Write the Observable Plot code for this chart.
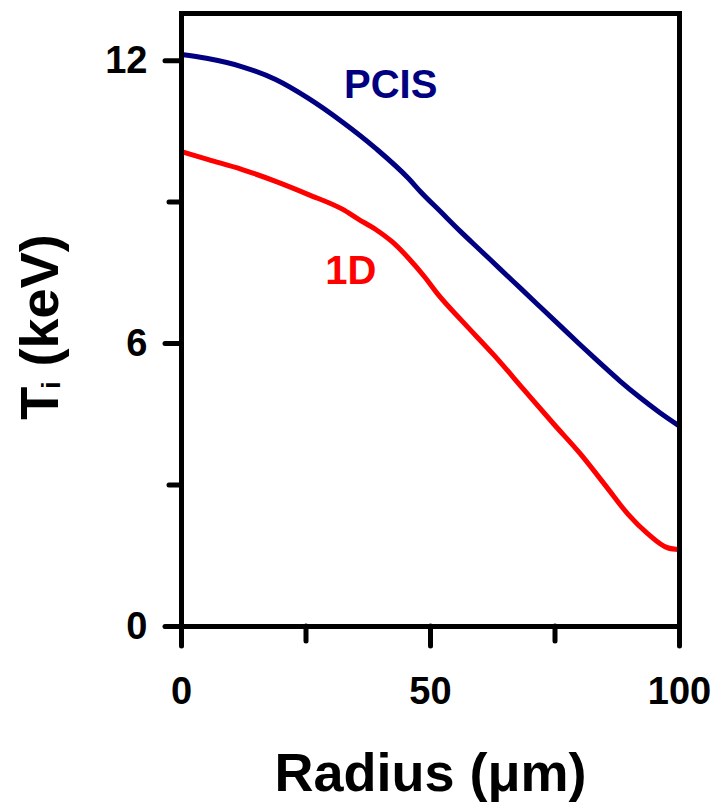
<!DOCTYPE html>
<html>
<head>
<meta charset="utf-8">
<script src="https://cdn.jsdelivr.net/npm/d3@7"></script>
<script src="https://cdn.jsdelivr.net/npm/@observablehq/plot@0.6"></script>
<style>
  html, body { margin: 0; padding: 0; background: #ffffff; }
  #chart svg { display: block; }
</style>
</head>
<body>
<div id="chart"></div>
<script>
// ---- Data ----
const radiusPCIS = [0, 5, 12.2, 18.9, 25.5, 32.3, 39, 45.6, 48, 52, 56, 60, 64, 68, 72, 76, 80, 84, 88, 92, 96, 100];
const tiPCIS     = [12.13, 12.05, 11.87, 11.6, 11.2, 10.7, 10.14, 9.5, 9.22, 8.8, 8.38, 7.98, 7.58, 7.18, 6.78, 6.38, 5.98, 5.59, 5.21, 4.86, 4.54, 4.25];

const radius1D = [0, 5.4, 12.2, 18.9, 25.5, 32.3, 35.5, 39, 42.4, 45.6, 49, 51.3, 56.6, 62.7, 68.7, 74.7, 80.1, 85.5, 89.6, 93.6, 97.6, 100];
const ti1D     = [10.07, 9.9, 9.69, 9.44, 9.16, 8.85, 8.64, 8.42, 8.15, 7.81, 7.39, 7.07, 6.45, 5.76, 5.03, 4.30, 3.66, 2.94, 2.39, 1.97, 1.67, 1.63];

const xMajorTicks = [0, 50, 100];
const xMinorTicks = [25, 75];
const yMajorTicks = [0, 6, 12];
const yMinorTicks = [3, 9];

const seriesNames = ["PCIS", "1D"];
const seriesColors = ["#000080", "#ff0000"];
// label anchor points (data units)
const labelRadius = [42, 34];
const labelTi = [11.2, 7.27];

const xLabel = "Radius (μm)";

// ---- Build tables ----
const pcis = radiusPCIS.map((r, i) => ({r, t: tiPCIS[i]}));
const oneD = radius1D.map((r, i) => ({r, t: ti1D[i]}));
const labels = seriesNames.map((name, i) => ({name, r: labelRadius[i], t: labelTi[i], color: seriesColors[i]}));

const chart = Plot.plot({
  width: 717,
  height: 809,
  marginLeft: 181,
  marginRight: 38,
  marginTop: 13,
  marginBottom: 183,
  x: {domain: [0, 100]},
  y: {domain: [0, 13]},
  style: {fontFamily: "'Liberation Sans', Arial, sans-serif", fontWeight: "bold", background: "#ffffff", color: "#000"},
  marks: [
    Plot.lineY(pcis, {x: "r", y: "t", stroke: seriesColors[0], strokeWidth: 5, curve: "monotone-x"}),
    Plot.lineY(oneD, {x: "r", y: "t", stroke: seriesColors[1], strokeWidth: 5, curve: "monotone-x"}),
    Plot.frame({stroke: "#000", strokeWidth: 5}),
    Plot.axisY(yMinorTicks, {tickSize: 12, tickFormat: () => "", strokeWidth: 5, strokeLinecap: "round", label: null}),
    Plot.axisY(yMajorTicks, {tickSize: 16, tickPadding: 18, strokeWidth: 5, strokeLinecap: "round", label: null,
      fontSize: 38, fontWeight: "bold"}),
    Plot.axisX(xMinorTicks, {tickSize: 15, tickFormat: () => "", strokeWidth: 5, strokeLinecap: "round", label: null}),
    Plot.axisX(xMajorTicks, {tickSize: 20, tickPadding: 31, strokeWidth: 5, strokeLinecap: "round", label: null,
      fontSize: 38, fontWeight: "bold"}),
    Plot.text(labels, {x: "r", y: "t", text: "name", fill: "color", fontSize: 40, fontWeight: "bold", lineAnchor: "bottom", textAnchor: "middle"}),
    Plot.text([xLabel], {frameAnchor: "bottom", dy: 164, lineAnchor: "bottom", fontSize: 54, fontWeight: "bold"})
  ]
});

document.getElementById("chart").appendChild(chart);

// y-axis label with subscript
const svg = d3.select(chart);
const yl = svg.append("text")
  .attr("transform", "translate(58,327) rotate(-90)")
  .attr("text-anchor", "middle")
  .attr("font-family", "'Liberation Sans', Arial, sans-serif")
  .attr("font-weight", "bold")
  .attr("font-size", 54)
  .attr("fill", "#000");
yl.append("tspan").text("T");
yl.append("tspan").attr("font-size", 26).attr("dx", -2).attr("dy", 2).text("i");
yl.append("tspan").attr("dy", -2).text(" (keV)");
</script>
</body>
</html>
